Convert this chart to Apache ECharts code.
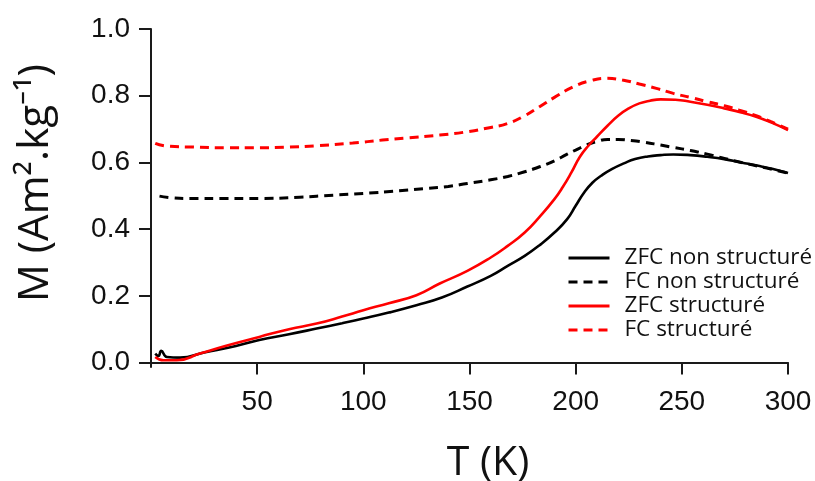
<!DOCTYPE html>
<html>
<head>
<meta charset="utf-8">
<script src="https://cdn.jsdelivr.net/npm/echarts@6/dist/echarts.min.js"></script>
<style>html,body{margin:0;padding:0;background:#fff}#c{width:815px;height:481px}</style>
</head>
<body>
<div id="c"></div>
<script>
// Temperatures (K) and magnetisation values (Am².kg⁻¹)
const seriesNames = ['ZFC non structuré', 'FC non structuré', 'ZFC structuré', 'FC structuré'];

const zfcNonT = [2, 3.5, 4.8, 7.5, 13.7, 25, 40, 51, 65, 78, 90, 100, 112, 125, 137, 149, 160, 168, 176, 183, 190, 196, 200, 204, 208, 212, 217, 223, 228, 234, 240, 246, 254, 262, 270, 278, 286, 293, 300];
const zfcNonM = [0.027, 0.02, 0.035, 0.017, 0.015, 0.03, 0.05, 0.068, 0.085, 0.102, 0.118, 0.132, 0.150, 0.172, 0.195, 0.228, 0.26, 0.29, 0.32, 0.352, 0.39, 0.43, 0.47, 0.51, 0.54, 0.56, 0.58, 0.598, 0.61, 0.618, 0.622, 0.624, 0.622, 0.617, 0.61, 0.60, 0.59, 0.58, 0.568];

const fcNonT = [4, 10, 18, 35, 51, 70, 86, 100, 117, 130, 140, 149, 160, 168, 176, 183, 190, 196, 200, 205, 210, 215, 220, 226, 232, 240, 246, 254, 262, 270, 280, 290, 300];
const fcNonM = [0.499, 0.494, 0.492, 0.492, 0.492, 0.496, 0.502, 0.507, 0.515, 0.522, 0.528, 0.537, 0.548, 0.558, 0.572, 0.587, 0.605, 0.625, 0.637, 0.652, 0.663, 0.669, 0.669, 0.666, 0.661, 0.652, 0.645, 0.636, 0.625, 0.612, 0.597, 0.583, 0.568];

const zfcStrT = [2, 5.9, 12.2, 23, 35, 51, 65, 78, 90, 100, 112, 125, 136, 149, 160, 168, 176, 183, 190, 194, 198, 202, 206, 210, 215, 220, 225, 230, 235, 240, 247, 254, 262, 270, 278, 285, 292, 300];
const zfcStrM = [0.017, 0.007, 0.007, 0.027, 0.05, 0.077, 0.10, 0.117, 0.138, 0.157, 0.178, 0.202, 0.237, 0.275, 0.315, 0.35, 0.39, 0.437, 0.49, 0.527, 0.57, 0.617, 0.65, 0.677, 0.71, 0.74, 0.762, 0.777, 0.785, 0.789, 0.788, 0.782, 0.773, 0.762, 0.75, 0.737, 0.72, 0.697];

const fcStrT = [2, 7.5, 20, 35, 51, 65, 78, 95, 109, 120, 136, 149, 160, 168, 176, 183, 190, 199, 207, 214.6, 222, 230, 238, 246, 254, 262, 270, 277, 285, 292, 300];
const fcStrM = [0.657, 0.649, 0.646, 0.644, 0.644, 0.646, 0.650, 0.658, 0.667, 0.673, 0.682, 0.692, 0.705, 0.717, 0.74, 0.767, 0.795, 0.827, 0.845, 0.852, 0.847, 0.835, 0.822, 0.807, 0.795, 0.782, 0.77, 0.757, 0.74, 0.722, 0.70];

const xTicks = [50, 100, 150, 200, 250, 300];
const yTicks = [0, 0.2, 0.4, 0.6, 0.8, 1.0];

const pair = (t, m) => t.map((v, i) => [v, m[i]]);

const chart = echarts.init(document.getElementById('c'), null, {renderer: 'canvas'});
const axisCol = '#1a1a1a';
function mk(name, t, m, color, dashed) {
  return {
    name: name, type: 'line', data: pair(t, m), smooth: 0.5, symbol: 'none',
    lineStyle: {color: color, width: dashed ? 3 : 2.6, type: dashed ? [9, 6] : 'solid'},
    itemStyle: {color: color}
  };
}
chart.setOption({
  animation: false,
  backgroundColor: '#fff',
  grid: {left: 151, right: 27, top: 29, bottom: 114, containLabel: false, outerBoundsMode: 'none'},
  legend: {
    orient: 'vertical', left: 562, top: 241, itemWidth: 41, itemHeight: 14, itemGap: 0,
    data: seriesNames,
    itemStyle: {opacity: 0},
    lineStyle: {width: 3},
    textStyle: {fontFamily: 'Open Sans', fontSize: 22.5, lineHeight: 24, color: '#111', padding: [0, 0, 0, 10]}
  },
  xAxis: {
    type: 'value', min: 0, max: 300,
    name: 'T (K)', nameLocation: 'middle', nameGap: 76,
    nameTextStyle: {fontFamily: 'Open Sans', fontSize: 41, color: '#111', padding: [0, 0, 0, 37]},
    axisLine: {lineStyle: {color: axisCol, width: 2}},
    axisTick: {show: true, length: 12, lineStyle: {color: axisCol, width: 2}, customValues: xTicks},
    axisLabel: {customValues: xTicks, margin: 21, fontFamily: 'Liberation Sans', fontSize: 28, color: '#111'},
    splitLine: {show: false}
  },
  yAxis: {
    type: 'value', min: -0.0132, max: 1,
    name: 'M (Am².kg⁻¹)', nameLocation: 'middle', nameGap: 94, nameRotate: 90,
    nameTextStyle: {fontFamily: 'Open Sans', fontSize: 42, color: '#111', padding: [0, 0, 0, 30]},
    axisLine: {show: true, lineStyle: {color: axisCol, width: 2}},
    axisTick: {show: true, length: 12, lineStyle: {color: axisCol, width: 2}, customValues: yTicks},
    axisLabel: {customValues: yTicks, margin: 21, fontFamily: 'Liberation Sans', fontSize: 28, color: '#111',
      formatter: v => v.toFixed(1)},
    splitLine: {show: false}
  },
  series: [
    mk(seriesNames[0], zfcNonT, zfcNonM, '#000000', false),
    mk(seriesNames[1], fcNonT, fcNonM, '#000000', true),
    mk(seriesNames[2], zfcStrT, zfcStrM, '#ff0000', false),
    mk(seriesNames[3], fcStrT, fcStrM, '#ff0000', true)
  ]
});
</script>
</body>
</html>
